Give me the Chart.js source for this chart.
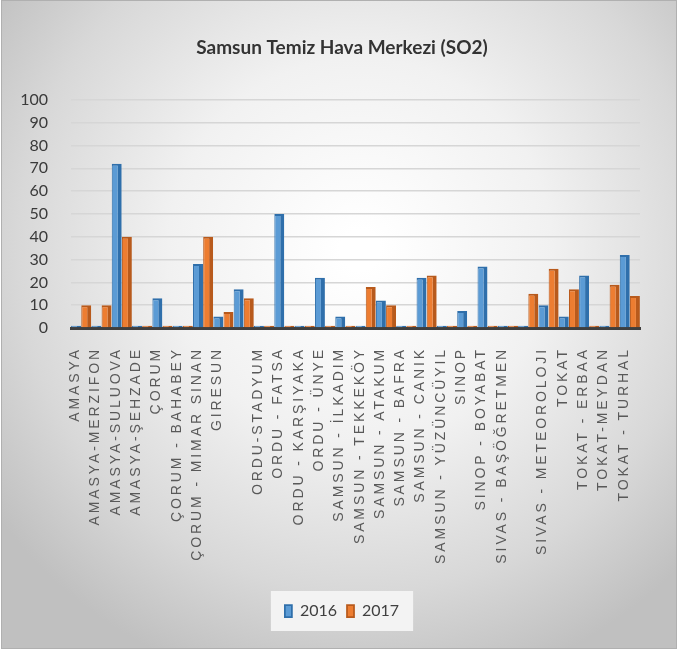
<!DOCTYPE html>
<html>
<head>
<meta charset="utf-8">
<script src="https://cdn.jsdelivr.net/npm/chart.js@4.4.1/dist/chart.umd.min.js"></script>
<style>
	html, body { margin: 0; padding: 0; background: #ffffff; }
	#wrap { width: 684px; height: 649px; position: relative; }
</style>
</head>
<body>
<div id="wrap"><canvas id="myChart"></canvas></div>
<script>
const stations = [
	"AMASYA", "AMASYA-MERZIFON", "AMASYA-SULUOVA", "AMASYA-ŞEHZADE", "ÇORUM",
	"ÇORUM - BAHABEY", "ÇORUM - MIMAR SINAN", "GIRESUN", "", "ORDU-STADYUM",
	"ORDU - FATSA", "ORDU - KARŞIYAKA", "ORDU - ÜNYE", "SAMSUN - İLKADIM", "SAMSUN - TEKKEKÖY",
	"SAMSUN - ATAKUM", "SAMSUN - BAFRA", "SAMSUN - CANIK", "SAMSUN - YÜZÜNCÜYIL", "SINOP",
	"SINOP - BOYABAT", "SIVAS - BAŞÖĞRETMEN", "", "SIVAS - METEOROLOJI", "TOKAT",
	"TOKAT - ERBAA", "TOKAT-MEYDAN", "TOKAT - TURHAL"
];
const so2_2016 = [1, 1, 72, 1, 13, 1, 28, 5, 17, 1, 50, 1, 22, 5, 1, 12, 1, 22, 1, 7.5, 27, 1, 1, 10, 5, 23, 1, 32];
const so2_2017 = [10, 10, 40, 1, 1, 1, 40, 7, 13, 1, 1, 1, 1, 1, 18, 10, 1, 23, 1, 1, 1, 1, 15, 26, 17, 1, 19, 14];
const yTicks = [0, 10, 20, 30, 40, 50, 60, 70, 80, 90, 100];

const headFont = "Lato, 'Open Sans', sans-serif";

// grey vignette behind everything + small box round the legend
const backdrop = {
	id: "backdrop",
	beforeDraw(chart) {
		const ctx = chart.ctx;
		ctx.save();
		ctx.fillStyle = "#ffffff";
		ctx.fillRect(0, 0, chart.width, chart.height);
		const g = ctx.createRadialGradient(360, 250, 20, 360, 250, 450);
		g.addColorStop(0, "#ffffff");
		g.addColorStop(0.4, "#f1f1f1");
		g.addColorStop(0.75, "#d8d8d8");
		g.addColorStop(1, "#c0c0c0");
		ctx.fillStyle = g;
		ctx.fillRect(1, 1, 675, 647);
		ctx.strokeStyle = "#b0b0b0";
		ctx.lineWidth = 1;
		ctx.strokeRect(1.5, 0.5, 675, 648);
		const boxes = chart.legend && chart.legend.legendHitBoxes;
		if (boxes && boxes.length) {
			let l = Infinity, r = -Infinity, t = Infinity, b = -Infinity;
			boxes.forEach(h => {
				l = Math.min(l, h.left); r = Math.max(r, h.left + h.width);
				t = Math.min(t, h.top); b = Math.max(b, h.top + h.height);
			});
			ctx.fillStyle = "rgba(244,244,244,0.95)";
			ctx.fillRect(l - 14, t - 12, r - l + 28, b - t + 24);
		}
		ctx.restore();
	}
};

let chartExist = new Chart("myChart", {
	type: "bar",
	data: {
		labels: stations,
		datasets: [
			{
				label: "2016",
				data: so2_2016,
				backgroundColor: "#5b9bd5",
				borderColor: "#2f6fab",
				borderWidth: { top: 2, right: 4, left: 1, bottom: 0 },
				borderSkipped: false,
				categoryPercentage: 1.0,
				barPercentage: 0.98
			},
			{
				label: "2017",
				data: so2_2017,
				backgroundColor: "#ed7d31",
				borderColor: "#b85a1c",
				borderWidth: { top: 2, right: 4, left: 1, bottom: 0 },
				borderSkipped: false,
				categoryPercentage: 1.0,
				barPercentage: 0.98
			}
		]
	},
	options: {
		responsive: true,
		maintainAspectRatio: false,
		animation: false,
		layout: { padding: { left: 14, right: 14, top: 0, bottom: 20 } },
		plugins: {
			title: {
				display: true,
				text: "Samsun Temiz Hava Merkezi (SO2)",
				color: "#333333",
				font: { family: headFont, size: 19, weight: "bold", lineHeight: 1.2 },
				padding: { top: 36, bottom: 41 }
			},
			legend: {
				position: "bottom",
				labels: {
					color: "#404040",
					font: { family: headFont, size: 16 },
					boxWidth: 7,
					boxHeight: 12,
					padding: 10
				}
			},
			tooltip: { enabled: false }
		},
		scales: {
			x: {
				grid: { display: false },
				border: { display: true, color: "#3f3f3f", width: 3 },
				ticks: {
					color: "#595959",
					font: { family: "'Liberation Sans', Arial, sans-serif", size: 14 },
					autoSkip: false,
					minRotation: 90,
					maxRotation: 90,
					padding: 11,
					labelOffset: -6
				},
				afterFit(scale) {
					scale.height = 265;
					if (!scale._spaced) {
						const orig = scale.drawLabels;
						scale.drawLabels = function (area) {
							this.ctx.save();
							this.ctx.letterSpacing = "2.9px";
							orig.call(this, area);
							this.ctx.restore();
						};
						scale._spaced = true;
					}
				}
			},
			y: {
				min: 0,
				max: 100,
				afterBuildTicks(scale) {
					scale.ticks = yTicks.map(v => ({ value: v }));
				},
				grid: { color: "#d6d6d6", lineWidth: 1.5, drawTicks: false },
				border: { display: false },
				ticks: {
					color: "#3a3a3a",
					font: { family: headFont, size: 16 },
					autoSkip: false,
					padding: 23
				},
				afterFit(scale) {
					scale.width = 57;
				}
			},
			// empty strip on the right so the plot ends where the reference does
			spacer: {
				type: "linear",
				position: "right",
				display: true,
				grid: { display: false },
				border: { display: false },
				ticks: { display: false },
				afterFit(scale) {
					scale.width = 30;
				}
			}
		}
	},
	plugins: [backdrop]
});
</script>
</body>
</html>
